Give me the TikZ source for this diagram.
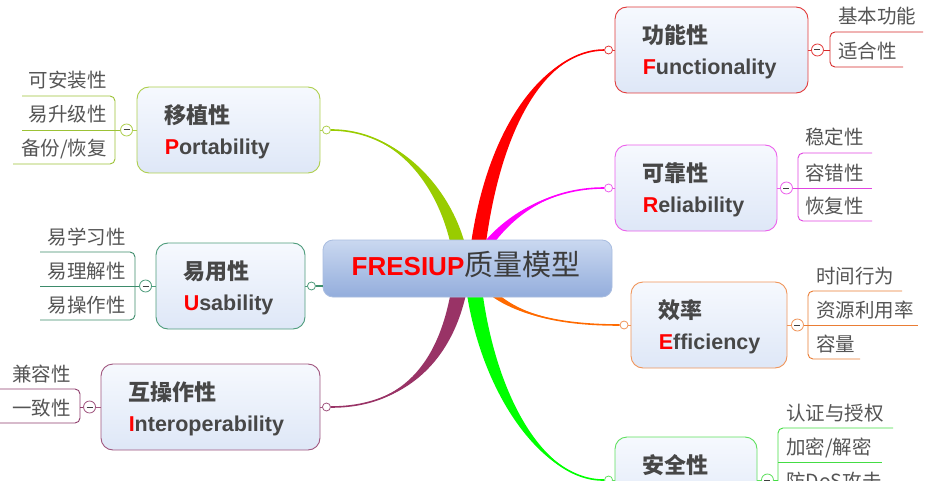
\documentclass[tikz,border=0pt]{standalone}
\usepackage{fontspec}
\setmainfont{Liberation Sans}
\newfontfamily\cjk{Noto Sans CJK SC}
\usetikzlibrary{calc,backgrounds}

\definecolor{brF}{HTML}{FF0000}
\definecolor{brR}{HTML}{FF00FF}
\definecolor{brE}{HTML}{FF6A00}
\definecolor{brS}{HTML}{00FF00}
\definecolor{brP}{HTML}{99CC00}
\definecolor{brU}{HTML}{3F8F6C}
\definecolor{brI}{HTML}{993366}

\definecolor{bdF}{HTML}{E23A3A}
\definecolor{bdR}{HTML}{EC60EC}
\definecolor{bdE}{HTML}{F0955A}
\definecolor{bdS}{HTML}{5FE05F}
\definecolor{bdP}{HTML}{AECF4E}
\definecolor{bdU}{HTML}{4E9C7C}
\definecolor{bdI}{HTML}{A0567F}

\definecolor{ulF}{HTML}{D52A2A}
\definecolor{ulR}{HTML}{E044E0}
\definecolor{ulE}{HTML}{EA7D35}
\definecolor{ulS}{HTML}{44DD44}
\definecolor{ulP}{HTML}{9CC236}
\definecolor{ulU}{HTML}{3D8B6B}
\definecolor{ulI}{HTML}{8E3E6C}

\definecolor{txt}{HTML}{474747}
\definecolor{subtxt}{HTML}{555555}
\definecolor{ctrtxt}{HTML}{3C3C3C}
\definecolor{tTop}{HTML}{F6F9FE}
\definecolor{tBot}{HTML}{DEE7F7}
\definecolor{cTop}{HTML}{CAD8F0}
\definecolor{cBot}{HTML}{93ADDC}
\definecolor{cBd}{HTML}{A9BDE0}

\newcommand\branchfill[6]{%
  \fill[#1] ($(#2)+(-#6,0)$) .. controls ($(#3)+(-#6,0)$) and (#4) .. (#5)
     .. controls (#4) and ($(#3)+(#6,0)$) .. ($(#2)+(#6,0)$) -- cycle;
  \draw[#1, line width=1.6pt] (#2) .. controls (#3) and (#4) .. (#5);}

\begin{document}
\begin{tikzpicture}[x=1pt,y=-1pt,
  topic/.style={draw=#1, line width=0.9pt, rounded corners=12pt, top color=tTop, bottom color=tBot, minimum height=86pt, inner sep=0pt},
  centre/.style={draw=cBd, line width=0.8pt, rounded corners=10pt, top color=cTop, bottom color=cBot, minimum width=289pt, minimum height=57pt, inner sep=0pt},
  hd/.style={anchor=west, inner sep=0pt, font=\cjk\bfseries\fontsize{22}{22}\selectfont, text=txt},
  en/.style={anchor=base west, inner sep=0pt, font=\bfseries\fontsize{21.5}{22}\selectfont, text=txt},
  subR/.style={anchor=base west, inner sep=0pt, font=\cjk\fontsize{19.5}{20}\selectfont, text=subtxt},
  subL/.style={anchor=base east, inner sep=0pt, font=\cjk\fontsize{19.5}{20}\selectfont, text=subtxt},
  dot/.style={circle, draw=#1, fill=white, line width=0.8pt, minimum size=8pt, inner sep=0pt},
  fold/.style={circle, draw=#1, fill=white, line width=0.8pt, minimum size=12pt, inner sep=0pt,
    path picture={\draw[line width=1pt,black!75] ([xshift=-3pt]path picture bounding box.center) -- ([xshift=3pt]path picture bounding box.center);}},
  ul/.style={draw=#1, line width=0.9pt}
]
\useasboundingbox (0,0) rectangle (928,481);
\clip (0,0) rectangle (928,481);

% central topic
\node[centre] (C) at (467.5,268.5) {};
\node[inner sep=0pt, anchor=base] (Ct) at (466,275) {{\bfseries\fontsize{26}{26}\selectfont\color{red}FRESIUP}{\cjk\fontsize{29}{29}\selectfont\color{ctrtxt}质量模型}};

% main topics
\node[topic=bdF, minimum width=193pt] (F) at (711.5,50) {};
\node[hd] (Fh) at ($(F.north west)+(28,29)$) {功能性};
\node[en] (Fe) at ($(F.north west)+(28,68)$) {{\color{red}F}unctionality};

\node[topic=bdR, minimum width=162pt] (R) at (696,188) {};
\node[hd] (Rh) at ($(R.north west)+(28,29)$) {可靠性};
\node[en] (Re) at ($(R.north west)+(28,68)$) {{\color{red}R}eliability};

\node[topic=bdE, minimum width=156pt] (E) at (709,325) {};
\node[hd] (Eh) at ($(E.north west)+(28,29)$) {效率};
\node[en] (Ee) at ($(E.north west)+(28,68)$) {{\color{red}E}fficiency};

\node[topic=bdS, minimum width=142pt] (S) at (686,480) {};
\node[hd] (Sh) at ($(S.north west)+(28,29)$) {安全性};

\node[topic=bdP, minimum width=183pt] (P) at (228.5,130) {};
\node[hd] (Ph) at ($(P.north west)+(28,29)$) {移植性};
\node[en] (Pe) at ($(P.north west)+(28,68)$) {{\color{red}P}ortability};

\node[topic=bdU, minimum width=149pt] (U) at (230.5,286) {};
\node[hd] (Uh) at ($(U.north west)+(28,29)$) {易用性};
\node[en] (Ue) at ($(U.north west)+(28,68)$) {{\color{red}U}sability};

\node[topic=bdI, minimum width=219pt] (I) at (210.5,407) {};
\node[hd] (Ih) at ($(I.north west)+(28,29)$) {互操作性};
\node[en] (Ie) at ($(I.north west)+(28,68)$) {{\color{red}I}nteroperability};

% connection dots
\node[dot=bdF] (dF) at ($(F.west)+(-6,0)$) {};
\node[dot=bdR] (dR) at ($(R.west)+(-6,0)$) {};
\node[dot=bdE] (dE) at ($(E.west)+(-6.5,0)$) {};
\node[dot=bdS] (dS) at ($(S.west)+(-6,0)$) {};
\node[dot=bdP] (dP) at ($(P.east)+(6,0)$) {};
\node[dot=bdU] (dU) at ($(U.east)+(6,0)$) {};
\node[dot=bdI] (dI) at ($(I.east)+(6,0)$) {};
\draw[bdF, line width=0.8pt] (dF.east) -- (F.west);
\draw[bdR, line width=0.8pt] (dR.east) -- (R.west);
\draw[bdE, line width=0.8pt] (dE.east) -- (E.west);
\draw[bdS, line width=0.8pt] (dS.east) -- (S.west);
\draw[bdP, line width=0.8pt] (dP.west) -- (P.east);
\draw[bdU, line width=0.8pt] (dU.west) -- (U.east);
\draw[bdI, line width=0.8pt] (dI.west) -- (I.east);
\draw[brU, line width=1.2pt] (dU.east) -- (C.west |- dU);

% fold circles
\node[fold=bdF] (fF) at ($(F.east)+(9,0)$) {};
\node[fold=bdR] (fR) at ($(R.east)+(9,0)$) {};
\node[fold=bdE] (fE) at ($(E.east)+(10,0)$) {};
\node[fold=bdS] (fS) at ($(S.east)+(10,0)$) {};
\node[fold=bdP] (fP) at ($(P.west)+(-10,0)$) {};
\node[fold=bdU] (fU) at ($(U.west)+(-10,0)$) {};
\node[fold=bdI] (fI) at ($(I.west)+(-11,0)$) {};
\draw[bdF, line width=0.8pt] (F.east) -- (fF.west);
\draw[bdR, line width=0.8pt] (R.east) -- (fR.west);
\draw[bdE, line width=0.8pt] (E.east) -- (fE.west);
\draw[bdS, line width=0.8pt] (S.east) -- (fS.west);
\draw[bdP, line width=0.8pt] (P.west) -- (fP.east);
\draw[bdU, line width=0.8pt] (U.west) -- (fU.east);
\draw[bdI, line width=0.8pt] (I.west) -- (fI.east);

% subtopics: Functionality
\draw[ul=ulF, rounded corners=5pt] (923,32) -| (830,67) -- (903,67);
\draw[ul=ulF] (fF.east) -- (830,50);
\node[subR] (F1) at (838,24) {基本功能};
\node[subR] (F2) at (838,59) {适合性};

% Reliability
\draw[ul=ulR, rounded corners=5pt] (872,153) -| (798,221) -- (872,221);
\draw[ul=ulR] (fR.east) -- (872,188);
\node[subR] (R1) at (805,145) {稳定性};
\node[subR] (R2) at (805,180) {容错性};
\node[subR] (R3) at (805,213) {恢复性};

% Efficiency
\draw[ul=ulE, rounded corners=5pt] (902,291) -| (808,359) -- (860,359);
\draw[ul=ulE] (fE.east) -- (918,325);
\node[subR] (E1) at (816,283) {时间行为};
\node[subR] (E2) at (816,317) {资源利用率};
\node[subR] (E3) at (816,351) {容量};

% Security
\draw[ul=ulS, rounded corners=5pt] (893,428) -| (778,496) -- (900,496);
\draw[ul=ulS] (778,462) -- (882,462);
\draw[ul=ulS] (fS.east) -- (778,480);
\node[subR] (S1) at (786,420) {认证与授权};
\node[subR] (S2) at (786,454) {加密/解密};
\node[subR] (S3) at (786,488) {防DoS攻击};

% Portability
\draw[ul=ulP, rounded corners=5pt] (22,96) -| (115,164) -- (13,164);
\draw[ul=ulP] (22,130) -- (fP.west);
\node[subL] (P1) at (107,88) {可安装性};
\node[subL] (P2) at (107,122) {易升级性};
\node[subL] (P3) at (107,156) {备份/恢复};

% Usability
\draw[ul=ulU, rounded corners=5pt] (40,252) -| (135,320) -- (40,320);
\draw[ul=ulU] (40,286) -- (fU.west);
\node[subL] (U1) at (126,244) {易学习性};
\node[subL] (U2) at (126,278) {易理解性};
\node[subL] (U3) at (126,312) {易操作性};

% Interoperability
\draw[ul=ulI, rounded corners=5pt] (0,389) -| (80,423) -- (0,423);
\draw[ul=ulI] (80,407) -- (fI.west);
\node[subL] (I1) at (71,381) {兼容性};
\node[subL] (I2) at (71,415) {一致性};

% branches (behind the topics)
\begin{pgfonlayer}{background}
  \fill[white] (0,0) rectangle (928,481);
  \coordinate (r0) at ($(C.center)+(8,0)$);
  \coordinate (r1) at (490,120);
  \coordinate (r2) at (550,50);
  \branchfill{brF}{r0}{r1}{r2}{dF.west}{7.5}
  \coordinate (m0) at (478,258);
  \coordinate (m1) at (505,215);
  \coordinate (m2) at (550,188);
  \branchfill{brR}{m0}{m1}{m2}{dR.west}{5.5}
  \coordinate (o0) at (478,278);
  \coordinate (o1) at (505,315);
  \coordinate (o2) at (560,325);
  \branchfill{brE}{o0}{o1}{o2}{dE.west}{5}
  \coordinate (g0) at (472,270);
  \coordinate (g1) at (482,385);
  \coordinate (g2) at (540,481);
  \branchfill{brS}{g0}{g1}{g2}{dS.west}{8}
  \coordinate (y0) at (462,268);
  \coordinate (y1) at (455,200);
  \coordinate (y2) at (405,130);
  \branchfill{brP}{y0}{y1}{y2}{dP.east}{7.5}
  \coordinate (p0) at (462,270);
  \coordinate (p1) at (452,360);
  \coordinate (p2) at (405,407);
  \branchfill{brI}{p0}{p1}{p2}{dI.east}{8}
\end{pgfonlayer}
\end{tikzpicture}
\end{document}
